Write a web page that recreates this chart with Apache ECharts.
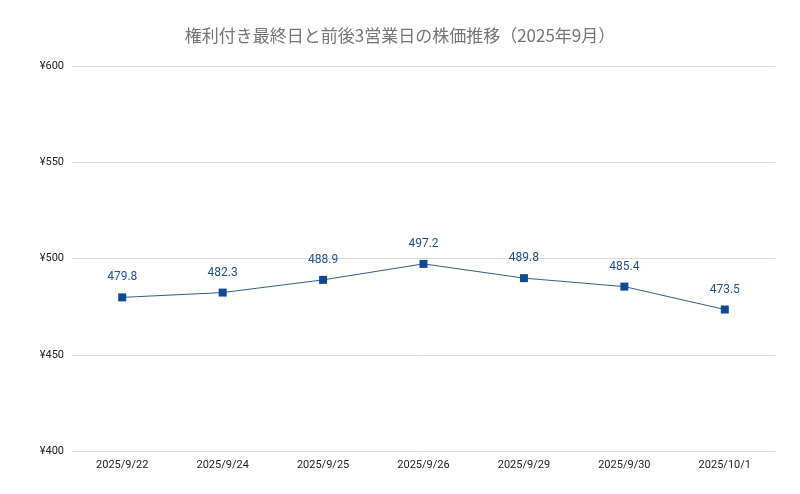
<!DOCTYPE html>
<html>
<head>
<meta charset="UTF-8">
<title>株価推移</title>
<style>
body{margin:0;background:#fff;}
#chart{width:800px;height:494px;}
</style>
</head>
<body>
<div id="chart"></div>
<script src="https://cdn.jsdelivr.net/npm/echarts@6/dist/echarts.min.js"></script>
<script>
var dates = ['2025/9/22', '2025/9/24', '2025/9/25', '2025/9/26', '2025/9/29', '2025/9/30', '2025/10/1'];
var prices = [479.8, 482.3, 488.9, 497.2, 489.8, 485.4, 473.5];

var myChart = echarts.init(document.getElementById('chart'));
var option = {
    backgroundColor: '#fff',
    textStyle: {fontFamily: 'Roboto, "Noto Sans CJK JP", sans-serif'},
    title: {
        left: 'center',
        top: 22,
        text: '権利付き最終日と前後3営業日の株価推移（2025年9月）',
        textStyle: {color: '#757575', fontSize: 17, fontWeight: 'normal', fontFamily: '"Noto Sans CJK JP", sans-serif'}
    },
    grid: {left: 72, right: 25, top: 66, bottom: 43},
    xAxis: {
        type: 'category',
        data: dates,
        axisLine: {show: false},
        axisTick: {show: false},
        axisLabel: {color: '#222', fontSize: 11, margin: 9}
    },
    yAxis: {
        type: 'value',
        min: 400,
        max: 600,
        interval: 50,
        axisLabel: {color: '#222', fontSize: 11, margin: 8, formatter: '¥{value}'},
        splitLine: {lineStyle: {color: '#d9d9d9'}}
    },
    series: [{
        type: 'line',
        data: prices,
        symbol: 'rect',
        symbolSize: 8,
        itemStyle: {color: '#0b4a94'},
        lineStyle: {color: '#2f5f8f', width: 1},
        label: {
            show: true,
            position: 'top',
            distance: 10,
            color: '#1f5190',
            fontSize: 12
        }
    }]
};
myChart.setOption(option);
</script>
</body>
</html>
